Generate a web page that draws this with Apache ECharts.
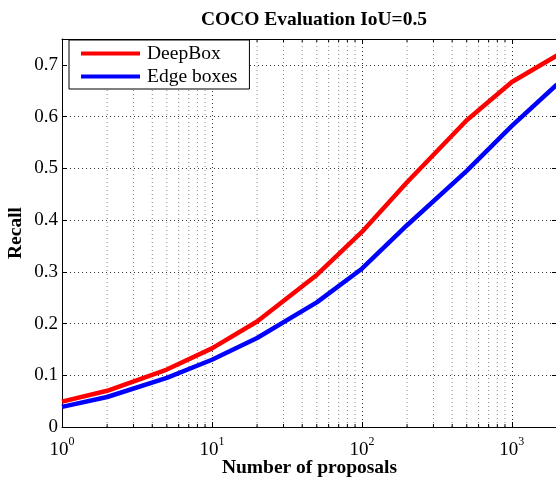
<!DOCTYPE html>
<html>
<head>
<meta charset="utf-8">
<script src="https://cdn.jsdelivr.net/npm/echarts@6/dist/echarts.min.js"></script>
<style>
html,body{margin:0;padding:0;background:#fff;}
#chart{width:556px;height:480px;}
</style>
</head>
<body>
<div id="chart"></div>
<script>
// ---- data ----
var proposals = [1, 2, 5, 10, 20, 50, 100, 200, 500, 1000, 2000];
var deepBox   = [0.049, 0.070, 0.111, 0.152, 0.204, 0.294, 0.377, 0.473, 0.593, 0.667, 0.718];
var edgeBoxes = [0.039, 0.058, 0.095, 0.130, 0.172, 0.241, 0.306, 0.390, 0.495, 0.582, 0.662];
var minorTicks = [2,3,4,5,6,7,8,9, 20,30,40,50,60,70,80,90, 200,300,400,500,600,700,800,900];
var seriesNames = ['DeepBox', 'Edge boxes'];
var titleText = 'COCO Evaluation IoU=0.5';
var xName = 'Number of proposals';
var yName = 'Recall';

var FONT = '"Liberation Serif", "Times New Roman", serif';
var YMAX = 0.75;

function pairs(xs, ys) { return xs.map(function (x, i) { return [x, ys[i]]; }); }

var chart = echarts.init(document.getElementById('chart'), null, {renderer: 'canvas'});

var dotted = [1, 3];

var option = {
  animation: false,
  backgroundColor: '#fff',
  title: {
    text: titleText,
    left: 309,
    textAlign: 'center',
    top: 5,
    textStyle: {fontFamily: FONT, fontSize: 19.5, fontWeight: 'bold', color: '#000'}
  },
  legend: {
    data: seriesNames,
    orient: 'vertical',
    left: 69,
    top: 40,
    backgroundColor: '#fff',
    borderColor: '#000',
    borderWidth: 1,
    borderRadius: 0,
    padding: [3, 12, 2, 12],
    itemGap: 2,
    itemWidth: 59,
    itemHeight: 4,
    icon: 'rect',
    textStyle: {fontFamily: FONT, fontSize: 19.5, color: '#000', lineHeight: 21, padding: [0, 0, 0, 2]}
  },
  grid: {left: 62, right: -1, top: 39, bottom: 53, containLabel: false, outerBoundsMode: 'none'},
  xAxis: [{
    type: 'log',
    logBase: 10,
    min: 1,
    max: 2000,
    splitNumber: 3,
    position: 'bottom',
    name: xName,
    nameLocation: 'middle',
    nameMoveOverlap: false,
    nameGap: 31,
    nameTextStyle: {fontFamily: FONT, fontSize: 19.5, fontWeight: 'bold', color: '#000'},
    axisLine: {show: true, onZero: false, lineStyle: {color: '#000', width: 1}},
    axisTick: {show: true, inside: true, length: 5, lineStyle: {color: '#000'}},
    axisLabel: {
      margin: 9,
      formatter: function (v) {
        var e = Math.log10(v);
        if (Math.abs(e - Math.round(e)) > 1e-6) return '';
        return '{b|10}{s|' + Math.round(e) + '}';
      },
      rich: {
        b: {fontFamily: FONT, fontSize: 19, color: '#000', lineHeight: 24, verticalAlign: 'bottom'},
        s: {fontFamily: FONT, fontSize: 12, color: '#000', lineHeight: 14, verticalAlign: 'top'}
      }
    },
    splitLine: {show: true, showMaxLine: false, lineStyle: {color: '#333', type: dotted, width: 1}}
  }, {
    type: 'log',
    logBase: 10,
    min: 1,
    max: 2000,
    splitNumber: 3,
    position: 'top',
    axisLine: {show: true, onZero: false, lineStyle: {color: '#000', width: 1}},
    axisTick: {show: true, inside: true, length: 5, lineStyle: {color: '#000'}},
    axisLabel: {show: false},
    splitLine: {show: false}
  }],
  yAxis: [{
    type: 'value',
    min: 0,
    max: YMAX,
    interval: 0.1,
    position: 'left',
    name: yName,
    nameLocation: 'middle',
    nameMoveOverlap: false,
    nameGap: 36,
    nameTextStyle: {fontFamily: FONT, fontSize: 19.5, fontWeight: 'bold', color: '#000'},
    axisLine: {show: true, onZero: false, lineStyle: {color: '#000', width: 1}},
    axisTick: {show: true, inside: true, length: 5, lineStyle: {color: '#000'}},
    axisLabel: {
      margin: 4,
      fontFamily: FONT, fontSize: 19, color: '#000',
      formatter: function (v) { return v > 0.71 ? '' : String(+v.toFixed(1)); }
    },
    splitLine: {show: true, showMaxLine: false, lineStyle: {color: '#333', type: dotted, width: 1}}
  }, {
    type: 'value',
    min: 0,
    max: YMAX,
    interval: 0.1,
    position: 'right',
    axisLine: {show: false},
    axisTick: {show: true, inside: true, length: 5, lineStyle: {color: '#000'}},
    axisLabel: {show: false},
    splitLine: {show: false}
  }],
  series: [{
    type: 'custom',
    name: 'minor',
    xAxisIndex: 0,
    yAxisIndex: 0,
    silent: true,
    z: 1,
    clip: false,
    data: minorTicks.map(function (v) { return [v, 0]; }),
    encode: {x: 0, y: 1},
    renderItem: function (params, api) {
      var x = api.value(0);
      var bot = api.coord([x, 0]);
      var top = api.coord([x, YMAX]);
      return {
        type: 'group',
        children: [{
          type: 'line',
          shape: {x1: bot[0], y1: bot[1], x2: top[0], y2: top[1]},
          style: {stroke: '#8a8a8a', lineWidth: 1, lineDash: dotted}
        }, {
          type: 'line',
          shape: {x1: bot[0], y1: bot[1], x2: bot[0], y2: bot[1] - 3},
          style: {stroke: '#000', lineWidth: 1}
        }, {
          type: 'line',
          shape: {x1: top[0], y1: top[1], x2: top[0], y2: top[1] + 3},
          style: {stroke: '#000', lineWidth: 1}
        }]
      };
    }
  }, {
    type: 'line',
    name: seriesNames[0],
    data: pairs(proposals, deepBox),
    showSymbol: false,
    symbol: 'none',
    z: 3,
    lineStyle: {color: '#ff0000', width: 4.5},
    itemStyle: {color: '#ff0000'}
  }, {
    type: 'line',
    name: seriesNames[1],
    data: pairs(proposals, edgeBoxes),
    showSymbol: false,
    symbol: 'none',
    z: 3,
    lineStyle: {color: '#0000ff', width: 4.5},
    itemStyle: {color: '#0000ff'}
  }]
};

chart.setOption(option);
</script>
</body>
</html>
